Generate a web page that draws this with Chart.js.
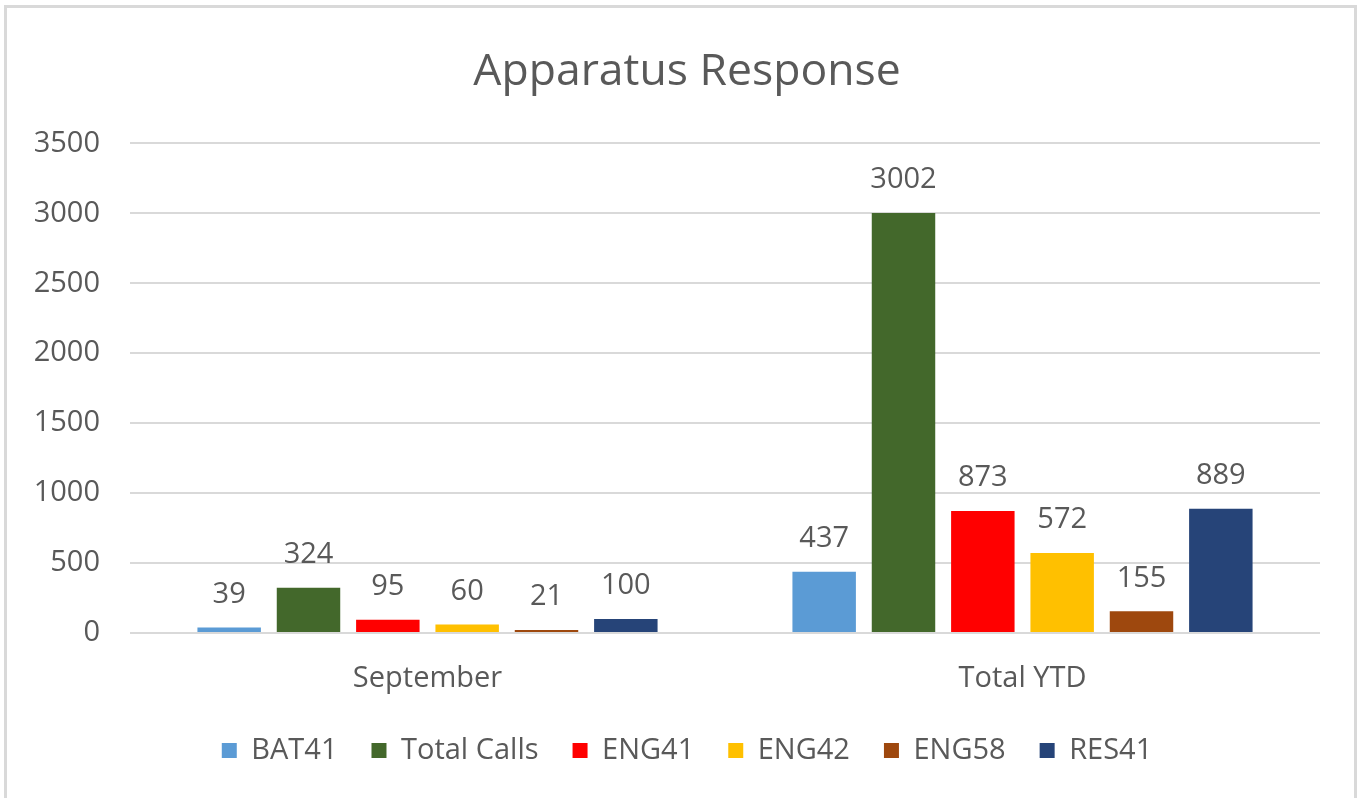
<!DOCTYPE html>
<html>
<head>
<meta charset="utf-8">
<script src="https://cdn.jsdelivr.net/npm/chart.js@4"></script>
<style>
html,body{margin:0;padding:0;background:#fff;}
#wrap{position:absolute;left:0;top:0;width:1361px;height:798px;}
</style>
</head>
<body>
<div id="wrap"><canvas id="c" width="1361" height="798"></canvas></div>
<script>
const categories = ["September", "Total YTD"];
const seriesNames = ["BAT41", "Total Calls", "ENG41", "ENG42", "ENG58", "RES41"];
const BAT41 = [39, 437];
const TotalCalls = [324, 3002];
const ENG41 = [95, 873];
const ENG42 = [60, 572];
const ENG58 = [21, 155];
const RES41 = [100, 889];
const yTickValues = [0, 500, 1000, 1500, 2000, 2500, 3000, 3500];
const colors = ["#5B9BD5", "#43682B", "#FF0000", "#FFC000", "#9E480E", "#264478"];

const FONT = "'Open Sans', 'DejaVu Sans', sans-serif";
const TEXT = "#595959";
const seriesData = [BAT41, TotalCalls, ENG41, ENG42, ENG58, RES41];

const borderPlugin = {
  id: 'frame',
  beforeDraw(chart) {
    const ctx = chart.ctx;
    ctx.save();
    ctx.fillStyle = '#fff';
    ctx.fillRect(0, 0, chart.width, chart.height);
    ctx.strokeStyle = '#d9d9d9';
    ctx.lineWidth = 3;
    ctx.strokeRect(5.5, 6.5, 1350, 800);
    ctx.restore();
  }
};

const labelPlugin = {
  id: 'valueLabels',
  afterDatasetsDraw(chart) {
    const ctx = chart.ctx;
    ctx.save();
    ctx.font = "29px " + FONT;
    ctx.fillStyle = TEXT;
    ctx.textAlign = 'center';
    ctx.textBaseline = 'middle';
    chart.data.datasets.forEach((ds, i) => {
      const meta = chart.getDatasetMeta(i);
      meta.data.forEach((bar, j) => {
        ctx.fillText(String(ds.data[j]), bar.x, bar.y - 33);
      });
    });
    ctx.restore();
  }
};

new Chart(document.getElementById('c'), {
  type: 'bar',
  data: {
    labels: categories,
    datasets: seriesNames.map((n, i) => ({
      label: n,
      data: seriesData[i],
      backgroundColor: colors[i],
      borderWidth: 0,
      categoryPercentage: 0.8,
      barPercentage: 0.8
    }))
  },
  options: {
    responsive: false,
    animation: false,
    devicePixelRatio: 1,
    layout: { padding: { left: 54, right: 41, top: 0, bottom: 23 } },
    plugins: {
      title: {
        display: true,
        text: "Apparatus Response",
        color: TEXT,
        font: { family: FONT, size: 44.5, weight: 'normal', lineHeight: 1.2 },
        padding: { top: 46, bottom: 44 }
      },
      legend: {
        display: true,
        position: 'bottom',
        labels: {
          color: TEXT,
          font: { family: FONT, size: 29 },
          boxWidth: 15,
          boxHeight: 15,
          padding: 34
        }
      },
      tooltip: { enabled: false }
    },
    scales: {
      x: {
        grid: { display: false, drawTicks: false },
        border: { display: false },
        ticks: { color: TEXT, font: { family: FONT, size: 29 }, padding: 28 },
        afterFit(scale) { scale.height = 69; }
      },
      y: {
        min: 0,
        max: 3500,
        afterBuildTicks(scale) { scale.ticks = yTickValues.map(v => ({ value: v })); },
        grid: { color: '#d9d9d9', lineWidth: 2, drawTicks: false },
        border: { display: false },
        ticks: {
          color: TEXT,
          font: { family: FONT, size: 29 },
          padding: 30,
          callback: (v) => String(v)
        },
        afterFit(scale) {
          scale.width = 76;
          scale._computeLabelArea = () => undefined;
        }
      }
    }
  },
  plugins: [borderPlugin, labelPlugin]
});
</script>
</body>
</html>
